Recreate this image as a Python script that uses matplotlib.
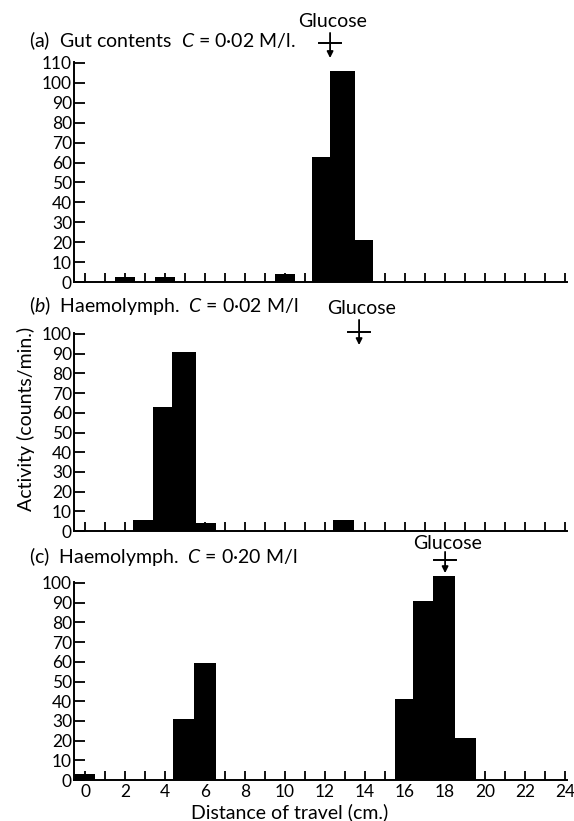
import matplotlib
matplotlib.use('Agg')
import matplotlib.pyplot as plt

# bar centres (cm), widths (cm) and heights (counts/min)
a_pos = [2, 4, 10, 11.8, 12.875, 13.95]
a_wid = [1, 1, 1, 0.9, 1.25, 0.9]
a_val = [2.5, 2.5, 4, 63, 106, 21]

b_pos = [2.9, 3.875, 4.95, 6.05, 12.925]
b_wid = [1, 0.95, 1.2, 1, 1.05]
b_val = [5.5, 63, 91, 4.2, 5.5]

c_pos = [0, 4.925, 6.0, 15.95, 16.9, 17.95, 19.025]
c_wid = [1, 1.05, 1.1, 0.9, 1.0, 1.1, 1.05]
c_val = [3, 31, 59.5, 41, 91, 103.5, 21.5]

glucose_x = [12.25, 13.7, 18.0]

titles = ["(a)  Gut contents  $C$ = 0·02 M/l.",
          "($b$)  Haemolymph.  $C$ = 0·02 M/l",
          "(c)  Haemolymph.  $C$ = 0·20 M/l"]

plt.rcParams['font.family'] = ['Lato', 'DejaVu Sans']
plt.rcParams['mathtext.fontset'] = 'custom'
plt.rcParams['mathtext.rm'] = 'Lato'
plt.rcParams['mathtext.it'] = 'Lato:italic'

fig = plt.figure(figsize=(5.74, 8.21), dpi=100)

left, width = 0.129, 0.859
ax_a = fig.add_axes([left, 0.6565, width, 0.268])
ax_b = fig.add_axes([left, 0.3532, width, 0.2412])
ax_c = fig.add_axes([left, 0.0499, width, 0.2412])

panels = [
    (ax_a, a_pos, a_wid, a_val, 110, 0.951),
    (ax_b, b_pos, b_wid, b_val, 100, 0.628),
    (ax_c, c_pos, c_wid, c_val, 100, 0.322),
]
# arrow geometry in axes fraction: (start, tip, crossbar, text)
arrow_geo = [(1.132, 1.018, 1.086, 1.182),
             (1.066, 0.939, 1.005, 1.126),
             (1.152, 1.045, 1.111, 1.192)]

for i, (ax, pos, wid, val, ytop, ty) in enumerate(panels):
    ax.bar(pos, val, width=wid, color='black', linewidth=0, zorder=3, clip_on=False)
    ax.set_xlim(-0.55, 24.1)
    ax.set_ylim(0, ytop + 0.5)
    ax.set_yticks(range(0, ytop + 1, 10))
    ax.set_xticks(range(0, 25))
    ax.tick_params(axis='y', direction='in', length=8, width=1.3, pad=1.5, labelsize=12.5)
    ax.tick_params(axis='x', direction='in', length=6.5, width=1.3, pad=3, labelsize=12.5)
    for s in ['top', 'right']:
        ax.spines[s].set_visible(False)
    for s in ['left', 'bottom']:
        ax.spines[s].set_linewidth(1.4)
    if i < 2:
        ax.set_xticklabels([])
    else:
        ax.set_xticklabels([str(v) if v % 2 == 0 else '' for v in range(0, 25)])

    fig.text(0.05, ty, titles[i], fontsize=14, va='center', ha='left')

    gx = glucose_x[i]
    start, tip, bar_y, text_y = arrow_geo[i]
    tr = ax.get_xaxis_transform()
    ax.annotate('', xy=(gx, tip), xytext=(gx, start), xycoords=tr,
                arrowprops=dict(arrowstyle='-|>', color='black', lw=1.3,
                                mutation_scale=9, shrinkA=0, shrinkB=0),
                annotation_clip=False)
    ax.plot([gx - 0.55, gx + 0.55], [bar_y, bar_y], color='black', lw=1.4,
            transform=tr, clip_on=False)
    ax.text(gx + 0.1, text_y, 'Glucose', transform=tr, fontsize=14,
            ha='center', va='center')

fig.text(0.045, 0.49, 'Activity (counts/min.)', rotation=90, fontsize=14,
         ha='center', va='center')
fig.text(0.505, 0.011, 'Distance of travel (cm.)', fontsize=14,
         ha='center', va='center')

fig.savefig('out.png', dpi=100)
